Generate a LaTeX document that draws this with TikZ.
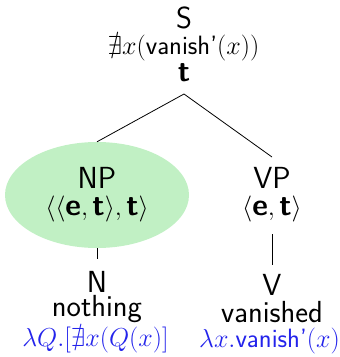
\RequirePackage{fix-cm}
\documentclass[tikz,border=0pt]{standalone}
\usepackage{amssymb}
\usetikzlibrary{shapes.geometric}
\DeclareMathSizes{30.5}{26}{18}{13}
\newcommand{\bsf}[1]{\mbox{\bfseries #1}}
\newcommand{\msf}[1]{\mbox{\fontsize{26.5}{26}\selectfont\sffamily #1}}
\begin{document}
\begin{tikzpicture}[x=1pt,y=-1pt,
  lbl/.style={font=\fontsize{30.5}{30}\selectfont\sffamily, inner sep=0pt, anchor=base},
  sem/.style={lbl, text=semblue},
  edge/.style={draw=black, line width=0.8pt}]
\definecolor{semblue}{RGB}{35,35,235}
\definecolor{npgreen}{RGB}{193,240,196}
\useasboundingbox (0,0) rectangle (340,357);
% root
\node[lbl] (S) at (184,28) {S};
\node[lbl] (Sf) at (183.5,54) {$\nexists x(\msf{vanish'}(x))$};
\node[lbl] (St) at (184,81) {\textbf{t}};
\coordinate (top) at (184,94);
% NP
\node[ellipse, fill=npgreen, minimum width=184pt, minimum height=106pt, inner sep=0pt] (NPe) at (97,195) {};
\node[lbl] (NP) at (97,188) {NP};
\node[lbl] (NPt) at (97,215) {$\langle\langle\bsf{e},\bsf{t}\rangle,\bsf{t}\rangle$};
% VP
\node[lbl] (VP) at (272,188) {VP};
\node[lbl] (VPt) at (272,215) {$\langle\bsf{e},\bsf{t}\rangle$};
\coordinate (vptop) at (272,157);
\coordinate (vpbot) at (272,234);
% N
\node[lbl] (N) at (97,292) {N};
\node[lbl] (Nw) at (97,316) {nothing};
\node[sem] (Ns) at (95.5,346) {$\lambda Q.[\nexists x(Q(x)]$};
\coordinate (ntop) at (97,259);
% V
\node[lbl] (V) at (272,295) {V};
\node[lbl] (Vw) at (272,322) {vanished};
\node[sem] (Vs) at (269.5,347) {$\lambda x.\msf{vanish'}(x)$};
\coordinate (vtop) at (272,265);
% edges
\draw[edge] (top) -- (NPe.north);
\draw[edge] (top) -- (vptop);
\draw[edge] (NPe.south) -- (ntop);
\draw[edge] (vpbot) -- (vtop);
\end{tikzpicture}
\end{document}
